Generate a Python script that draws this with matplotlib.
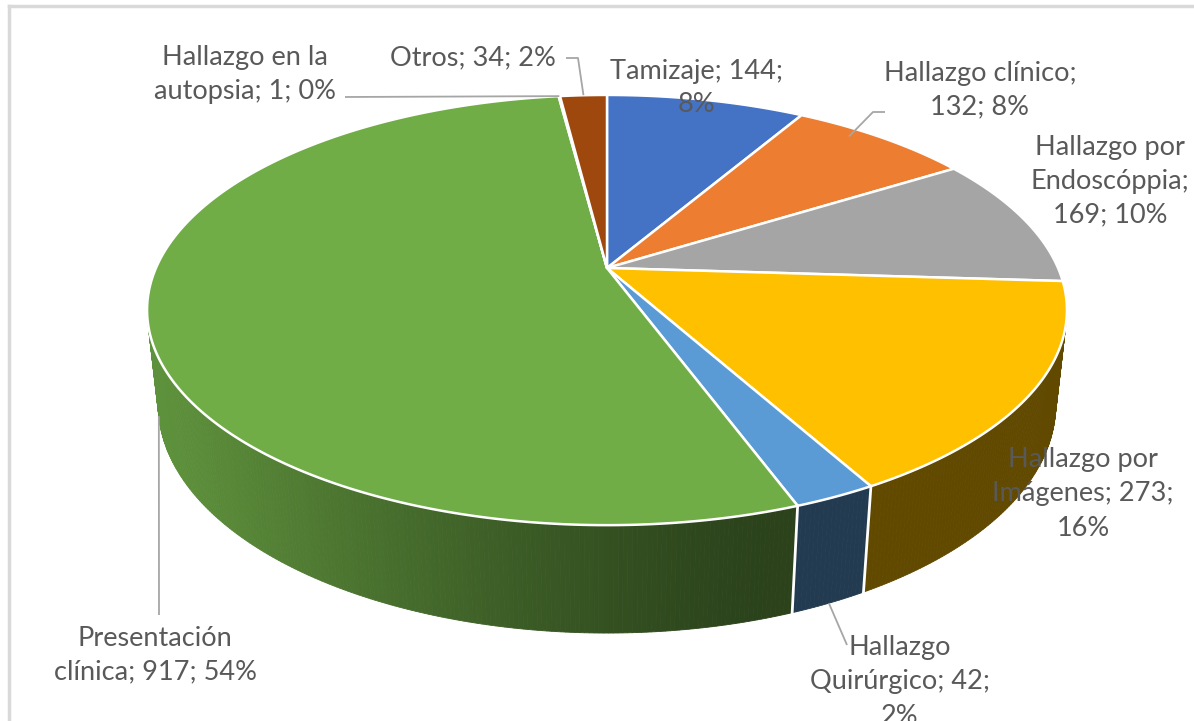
import numpy as np
import matplotlib
matplotlib.use("Agg")
import matplotlib.pyplot as plt
from matplotlib.patches import Polygon

# data, in Excel order (clockwise from 12 o'clock)
categories = ["Tamizaje", "Hallazgo clínico", "Hallazgo por Endoscóppia",
              "Hallazgo por Imágenes", "Hallazgo Quirúrgico",
              "Presentación clínica", "Hallazgo en la autopsia", "Otros"]
values = [144, 132, 169, 273, 42, 917, 1, 34]
percent_labels = ["8%", "8%", "10%", "16%", "2%", "54%", "0%", "2%"]
label_texts = [
    "Tamizaje; 144;\n8%",
    "Hallazgo clínico;\n132; 8%",
    "Hallazgo por\nEndoscóppia;\n169; 10%",
    "Hallazgo por\nImágenes; 273;\n16%",
    "Hallazgo\nQuirúrgico; 42;\n2%",
    "Presentación\nclínica; 917; 54%",
    "Hallazgo en la\nautopsia; 1; 0%",
    "Otros; 34; 2%",
]
colors = ["#4472C4", "#ED7D31", "#A5A5A5", "#FFC000",
          "#5B9BD5", "#70AD47", "#264478", "#9E480E"]

# label layout (pixel centres) and leader lines
label_pos = [(696, 88), (980, 90), (1110, 181), (1083, 494),
             (900, 682), (155, 655), (245, 74), (473, 58)]
leaders = {
    # index: (label-side points, (radius, angle shift, z-level) of pie anchor)
    1: ([(885, 112), (873, 112)], (0.95, -4, "top")),
    2: ([(993, 222), (980, 222)], (0.88, 0, "top")),
    4: ([(847, 645)], (1.0, 0, "bottom")),
    5: ([(159, 615)], (1.0, 0, "bottom")),
    6: ([(345, 97)], (1.0, 0, "top")),
    7: ([(566, 58), (578, 58)], (1.0, 0, "top")),
}

# simple perspective camera
PHI = np.radians(27.3)
C, S_ = np.cos(PHI), np.sin(PHI)
DIST = 4.545
SCALE = 2050
CX, CY = 607, 268
H = 0.2385


def project(u, v, z):
    depth = DIST + v * C - z * S_
    x = CX + SCALE * u / depth
    y = CY - SCALE * (v * S_ + z * C) / depth
    return x, y


def rim(theta, r=1.0, z=0.0):
    return project(r * np.sin(theta), r * np.cos(theta), z)


def shade(hex_color, theta):
    n = np.array([np.sin(theta), np.cos(theta)])
    light = np.array([-0.944, -0.33])
    k = max(0.0, n @ light) ** 1.5
    m = 0.38 + 0.46 * k
    rgb = np.array(matplotlib.colors.to_rgb(hex_color))
    return tuple(rgb * m)


fig = plt.figure(figsize=(11.94, 7.21), dpi=100)
ax = fig.add_axes([0, 0, 1, 1])
ax.set_xlim(0, 1194)
ax.set_ylim(721, 0)
ax.axis("off")

total = sum(values)
bounds = np.concatenate([[0], np.cumsum(values)]) / total * 2 * np.pi

# side walls, only those facing the camera, far to near
quads = []
for i in range(len(values)):
    a0, a1 = bounds[i], bounds[i + 1]
    steps = max(2, int(np.degrees(a1 - a0) / 0.5))
    ts = np.linspace(a0, a1, steps + 1)
    for t0, t1 in zip(ts[:-1], ts[1:]):
        tm = 0.5 * (t0 + t1)
        if np.cos(tm) > -1 / (DIST * C) + 0.02:
            continue
        pts = [rim(t0), rim(t1), rim(t1, z=-H), rim(t0, z=-H)]
        depth = DIST + np.cos(tm) * C
        quads.append((depth, pts, shade(colors[i], tm)))
quads.sort(key=lambda q: -q[0])
for _, pts, col in quads:
    ax.add_patch(Polygon(pts, closed=True, facecolor=col, edgecolor=col,
                         linewidth=0.6))

# white seams on the visible wall
for b in bounds[1:-1]:
    if np.cos(b) < -1 / (DIST * C):
        x0, y0 = rim(b)
        x1, y1 = rim(b, z=-H)
        ax.plot([x0, x1], [y0, y1], color="white", lw=2)

# top face
for i in range(len(values)):
    a0, a1 = bounds[i], bounds[i + 1]
    ts = np.linspace(a0, a1, max(2, int(np.degrees(a1 - a0) * 2)) + 1)
    pts = [project(0, 0, 0)] + [rim(t) for t in ts]
    ax.add_patch(Polygon(pts, closed=True, facecolor=colors[i],
                         edgecolor="white", linewidth=1.8, joinstyle="round"))

# leader lines
for i, (pts, (r, shift, level)) in leaders.items():
    tm = 0.5 * (bounds[i] + bounds[i + 1]) + np.radians(shift)
    z = 0.0 if level == "top" else -H
    anchor = rim(tm, r=r, z=z)
    path = pts + [anchor]
    ax.plot([p[0] for p in path], [p[1] for p in path],
            color="#A6A6A6", lw=1.3, solid_capstyle="butt")

# labels
for txt, (lx, ly) in zip(label_texts, label_pos):
    ax.text(lx, ly, txt, ha="center", va="center", multialignment="center",
            fontsize=19.5, color="#595959", family=["Lato", "DejaVu Sans"],
            linespacing=1.45)

# chart frame (cropped)
ax.plot([9, 9], [6, 721], color="#D9D9D9", lw=2.5)
ax.plot([9, 1194], [6, 6], color="#D9D9D9", lw=2.5)

fig.savefig("out.png", dpi=100)
